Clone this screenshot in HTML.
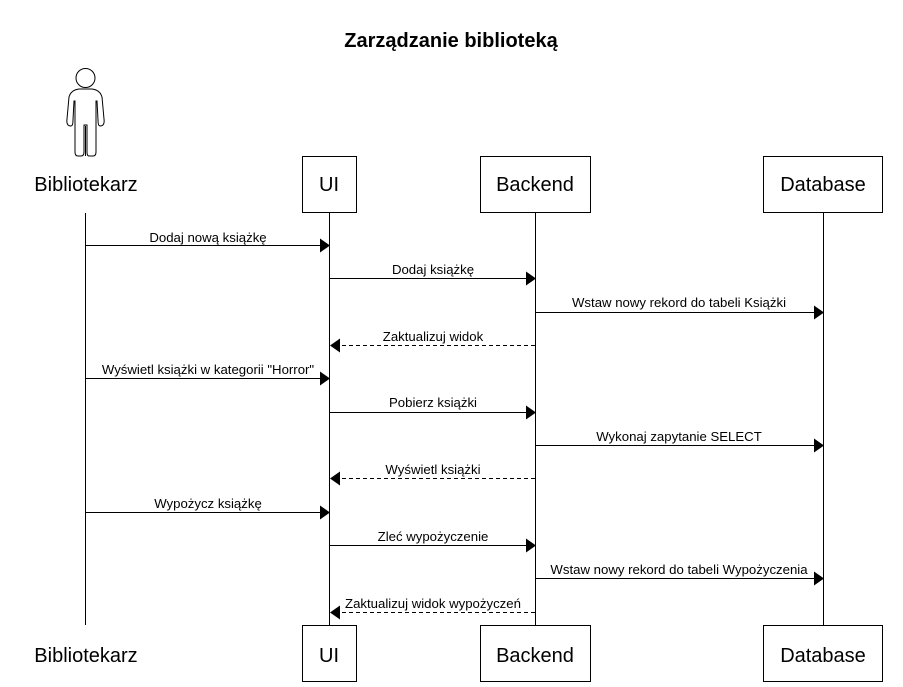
<!DOCTYPE html>
<html><head><meta charset="utf-8"><style>body{margin:0;background:#fff}svg{display:block}</style></head><body>
<svg width="903" height="687" xmlns="http://www.w3.org/2000/svg" font-family="Liberation Sans, Arial, sans-serif">
<rect width="903" height="687" fill="#fff"/>
<text x="451" y="47" text-anchor="middle" font-size="20" font-weight="bold">Zarządzanie biblioteką</text>
<g fill="none" stroke="#000" stroke-width="1">
<circle cx="85.5" cy="78" r="9.5"/>
<path d="M79 89 L92 89 Q100 90 102 97 L104 119 Q105 126 100 126 Q98 126 98 120 L97 101 L96 101 L96 152 Q96 156 93 156 L89 156 Q87 156 87 152 L87 125 L84 125 L84 152 Q84 156 81 156 L78 156 Q75 156 75 152 L75 101 L74 101 L73 120 Q73 126 71 126 Q66 126 67 119 L69 97 Q71 90 79 89 Z"/>
<line x1="85.5" y1="126" x2="85.5" y2="156"/>
<rect x="302.5" y="156.5" width="54" height="56"/>
<rect x="480.5" y="156.5" width="110" height="56"/>
<rect x="763.5" y="156.5" width="119" height="56"/>
<rect x="302.5" y="625.5" width="54" height="56"/>
<rect x="480.5" y="625.5" width="110" height="56"/>
<rect x="763.5" y="625.5" width="119" height="56"/>
<line x1="85.5" y1="213" x2="85.5" y2="625"/>
<line x1="329.5" y1="213" x2="329.5" y2="625"/>
<line x1="535.5" y1="213" x2="535.5" y2="625"/>
<line x1="823.5" y1="213" x2="823.5" y2="625"/>
</g>
<g font-size="20" text-anchor="middle">
<text x="86" y="191">Bibliotekarz</text><text x="329" y="191">UI</text><text x="535" y="191">Backend</text><text x="823" y="191">Database</text>
<text x="86" y="662">Bibliotekarz</text><text x="329" y="662">UI</text><text x="535" y="662">Backend</text><text x="823" y="662">Database</text>
</g>
<g stroke="#000" stroke-width="1">
<line x1="86" y1="245.5" x2="320" y2="245.5"/>
<line x1="330" y1="278.5" x2="526" y2="278.5"/>
<line x1="536" y1="312.5" x2="814" y2="312.5"/>
<line x1="535" y1="345.5" x2="339" y2="345.5" stroke-dasharray="4,3"/>
<line x1="86" y1="378.5" x2="320" y2="378.5"/>
<line x1="330" y1="412.5" x2="526" y2="412.5"/>
<line x1="536" y1="445.5" x2="814" y2="445.5"/>
<line x1="535" y1="478.5" x2="339" y2="478.5" stroke-dasharray="4,3"/>
<line x1="86" y1="512.5" x2="320" y2="512.5"/>
<line x1="330" y1="545.5" x2="526" y2="545.5"/>
<line x1="536" y1="578.5" x2="814" y2="578.5"/>
<line x1="535" y1="612.5" x2="339" y2="612.5" stroke-dasharray="4,3"/>
</g>
<g fill="#000">
<path d="M320 238.5 L330 245.5 L320 252.5Z"/>
<path d="M526 271.5 L536 278.5 L526 285.5Z"/>
<path d="M814 305.5 L824 312.5 L814 319.5Z"/>
<path d="M340 338.5 L330 345.5 L340 352.5Z"/>
<path d="M320 371.5 L330 378.5 L320 385.5Z"/>
<path d="M526 405.5 L536 412.5 L526 419.5Z"/>
<path d="M814 438.5 L824 445.5 L814 452.5Z"/>
<path d="M340 471.5 L330 478.5 L340 485.5Z"/>
<path d="M320 505.5 L330 512.5 L320 519.5Z"/>
<path d="M526 538.5 L536 545.5 L526 552.5Z"/>
<path d="M814 571.5 L824 578.5 L814 585.5Z"/>
<path d="M340 605.5 L330 612.5 L340 619.5Z"/>
</g>
<g font-size="13.2" text-anchor="middle">
<text x="208" y="242">Dodaj nową książkę</text>
<text x="433" y="274">Dodaj książkę</text>
<text x="679" y="307">Wstaw nowy rekord do tabeli Książki</text>
<text x="433" y="341">Zaktualizuj widok</text>
<text x="208" y="374">Wyświetl książki w kategorii "Horror"</text>
<text x="433" y="407">Pobierz książki</text>
<text x="679" y="441">Wykonaj zapytanie SELECT</text>
<text x="433" y="474">Wyświetl książki</text>
<text x="208" y="508">Wypożycz książkę</text>
<text x="433" y="541">Zleć wypożyczenie</text>
<text x="679" y="574">Wstaw nowy rekord do tabeli Wypożyczenia</text>
<text x="433" y="608">Zaktualizuj widok wypożyczeń</text>
</g>
</svg>
</body></html>
